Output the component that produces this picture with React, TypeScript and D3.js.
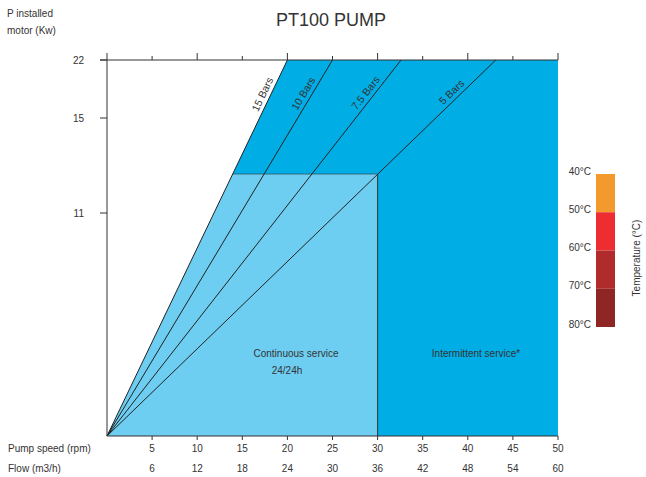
import React from 'react'
import * as d3 from 'd3'

// chart values
const rpmTicks = [5, 10, 15, 20, 25, 30, 35, 40, 45, 50]
const flowLabels = [6, 12, 18, 24, 30, 36, 42, 48, 54, 60]
const powerTicks = [22, 15, 11]
const barLabels = ['15 Bars', '10 Bars', '7.5 Bars', '5 Bars']
const barTopRpm = [20, 25, 32.6, 43.1]
const maxRpm = 50
const maxKw = 22
const continuousRpm = 30
const continuousKw = 12.64
const tempLabels = ['40°C', '50°C', '60°C', '70°C', '80°C']
const tempValues = [40, 50, 60, 70, 80]
const tempColors = ['#F39A2F', '#EE2D32', '#B12A2C', '#8E2624']

const W = 646
const H = 477
const font = '"Liberation Sans", Arial, sans-serif'
const textColor = '#333'
const darkBlue = '#00ADE5'
const lightBlue = '#6DCEF1'

export default function App() {
    const x = d3.scaleLinear().domain([0, maxRpm]).range([107, 558])
    // the power axis is not linear in the original
    const y = d3.scaleLinear().domain([0, 11, 15, 22]).range([436, 213, 118, 60])
    const tY = d3.scaleLinear().domain([40, 80]).range([174, 327])

    const x0 = x(0), y0 = y(0), yTop = y(maxKw)
    const yCont = y(continuousKw)
    // fraction along the pressure lines where the continuous limit lies
    const tCont = (y0 - yCont) / (y0 - yTop)
    const x15Top = x(barTopRpm[0])
    const x15Cont = x0 + tCont * (x15Top - x0)

    const line = d3.line<[number, number]>()

    const darkPoly: [number, number][] = [
        [x15Top, yTop], [x(maxRpm), yTop], [x(maxRpm), y0], [x(continuousRpm), y0],
        [x(continuousRpm), yCont], [x15Cont, yCont],
    ]
    const lightPoly: [number, number][] = [
        [x0, y0], [x15Cont, yCont], [x(continuousRpm), yCont], [x(continuousRpm), y0],
    ]

    const labelT = 0.9

    return (
        <svg width={W} height={H} style={{ position: 'absolute', left: 0, top: 0, fontFamily: font }}>
            <rect width={W} height={H} fill="#fff" />
            <text x={331} y={26} textAnchor="middle" fontSize={18} fill={textColor}>PT100 PUMP</text>
            <text x={7} y={17} fontSize={10} fill={textColor}>P installed</text>
            <text x={7} y={34} fontSize={10} fill={textColor}>motor (Kw)</text>

            <path d={line(darkPoly) + 'Z'} fill={darkBlue} />
            <path d={line(lightPoly) + 'Z'} fill={lightBlue} />

            {/* pressure lines */}
            {barTopRpm.map((r, i) => {
                const xt = x(r)
                const ang = Math.atan2(yTop - y0, xt - x0) * 180 / Math.PI
                const lx = x0 + labelT * (xt - x0)
                const ly = y0 + labelT * (yTop - y0)
                return (
                    <g key={barLabels[i]}>
                        <path d={line([[x0, y0], [xt, yTop]]) ?? ''} stroke="#222" strokeWidth={1} fill="none" />
                        <text transform={`translate(${lx},${ly}) rotate(${ang})`} dy={-4} textAnchor="middle"
                            fontSize={10.5} fill={textColor}>{barLabels[i]}</text>
                    </g>
                )
            })}

            <line x1={x(continuousRpm)} x2={x(continuousRpm)} y1={yCont} y2={y0} stroke="#333" strokeWidth={1} />
            <line x1={x15Cont} x2={x(continuousRpm)} y1={yCont} y2={yCont} stroke="#333" strokeWidth={0.6} />

            {/* axes */}
            <line x1={x0} x2={x0} y1={yTop - 7} y2={y0} stroke="#333" strokeWidth={1} />
            <line x1={x0 - 7} x2={x(maxRpm)} y1={yTop} y2={yTop} stroke="#333" strokeWidth={1} />
            <line x1={x0} x2={x(maxRpm)} y1={y0} y2={y0} stroke="#333" strokeWidth={1} />
            {powerTicks.map(p => (
                <g key={p}>
                    <line x1={x0 - 7} x2={x0} y1={y(p)} y2={y(p)} stroke="#333" />
                    <text x={84} y={y(p)} dy="0.35em" textAnchor="end" fontSize={10} fill={textColor}>{p}</text>
                </g>
            ))}
            {rpmTicks.map((r, i) => (
                <g key={r}>
                    <line x1={x(r)} x2={x(r)} y1={yTop} y2={yTop - (r % 10 === 0 ? 7 : 4)} stroke="#333" />
                    <line x1={x(r)} x2={x(r)} y1={y0} y2={y0 + 4} stroke="#333" />
                    <text x={x(r)} y={448} dy="0.35em" textAnchor="middle" fontSize={10} fill={textColor}>{r}</text>
                    <text x={x(r)} y={468} dy="0.35em" textAnchor="middle" fontSize={10} fill={textColor}>{flowLabels[i]}</text>
                </g>
            ))}
            <text x={8} y={448} dy="0.35em" fontSize={10} fill={textColor}>Pump speed (rpm)</text>
            <text x={8} y={468} dy="0.35em" fontSize={10} fill={textColor}>Flow (m3/h)</text>

            <text x={296} y={353} dy="0.35em" textAnchor="middle" fontSize={10} fill={textColor}>Continuous service</text>
            <text x={287} y={370} dy="0.35em" textAnchor="middle" fontSize={10} fill={textColor}>24/24h</text>
            <text x={476} y={353} dy="0.35em" textAnchor="middle" fontSize={10} fill={textColor}>Intermittent service*</text>

            {/* temperature legend */}
            {tempColors.map((c, i) => (
                <rect key={c} x={596} width={19} y={tY(tempValues[i])} height={tY(tempValues[i + 1]) - tY(tempValues[i])} fill={c} />
            ))}
            {tempLabels.map((t, i) => (
                <text key={t} x={591} y={tY(tempValues[i]) - 3} dy="0.35em" textAnchor="end" fontSize={10} fill={textColor}>{t}</text>
            ))}
            <text transform="translate(640,258) rotate(-90)" textAnchor="middle" fontSize={10} fill={textColor}>Temperature (°C)</text>
        </svg>
    )
}
